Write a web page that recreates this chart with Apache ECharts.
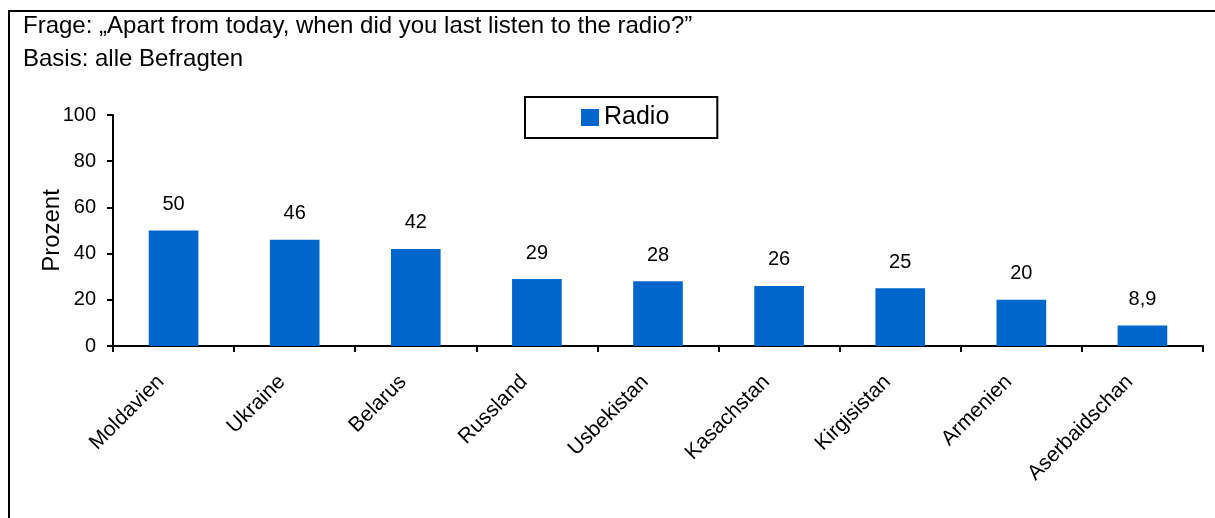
<!DOCTYPE html>
<html>
<head>
<meta charset="utf-8">
<script src="https://cdn.jsdelivr.net/npm/echarts@6/dist/echarts.min.js"></script>
<style>
html,body{margin:0;padding:0;background:#fff;}
#c{width:1215px;height:518px;}
</style>
</head>
<body>
<div id="c"></div>
<script>
const categories = ["Moldavien","Ukraine","Belarus","Russland","Usbekistan","Kasachstan","Kirgisistan","Armenien","Aserbaidschan"];
const radioValues = [50,46,42,29,28,26,25,20,8.9];
const yTicks = [0,20,40,60,80,100];
const titleLines = ["Frage: \u201EApart from today, when did you last listen to the radio?\u201D","Basis: alle Befragten"];

const font = "Arial, 'Liberation Sans', sans-serif";
const chart = echarts.init(document.getElementById('c'));
chart.setOption({
  animation:false,
  backgroundColor:'#fff',
  graphic:[
    {type:'polyline',shape:{points:[[9,518],[9,11],[1215,11]]},style:{stroke:'#000',lineWidth:2,fill:null}},
    {type:'text',left:23,top:10,style:{text:titleLines.join('\n'),font:'24px '+font,fill:'#000',lineHeight:33}}
  ],
  legend:{
    show:true,left:525,top:97,
    padding:[8,48,8,56],
    borderColor:'#000',borderWidth:2,
    itemWidth:18,itemHeight:17,itemGap:4,
    icon:'rect',
    textStyle:{fontFamily:font,fontSize:25,color:'#000',lineHeight:25}
  },
  grid:{left:113,right:12,top:115,bottom:172,containLabel:false},
  xAxis:{
    type:'category',data:categories,
    axisLine:{lineStyle:{color:'#000',width:2}},
    axisTick:{show:true,length:6,lineStyle:{color:'#000',width:2}},
    axisLabel:{rotate:45,margin:20,padding:[0,18,0,0],fontFamily:font,fontSize:21,color:'#000',interval:0}
  },
  yAxis:{
    type:'value',min:0,max:100,interval:20,
    name:'Prozent',nameLocation:'middle',nameGap:49,nameRotate:90,nameMoveOverlap:false,
    nameTextStyle:{fontFamily:font,fontSize:24,color:'#000'},
    axisLine:{show:true,lineStyle:{color:'#000',width:2}},
    axisTick:{show:true,length:6,lineStyle:{color:'#000',width:2}},
    axisLabel:{fontFamily:font,fontSize:20,color:'#000',margin:17,
      formatter:v=>yTicks.includes(v)?String(v):''},
    splitLine:{show:false}
  },
  series:[{
    name:'Radio',type:'bar',data:radioValues,barWidth:'41%',
    itemStyle:{color:'#0066CC'},
    label:{show:true,position:'top',distance:16,fontFamily:font,fontSize:20,color:'#000',
      formatter:p=>String(p.value).replace('.',',')}
  }]
});
</script>
</body>
</html>
